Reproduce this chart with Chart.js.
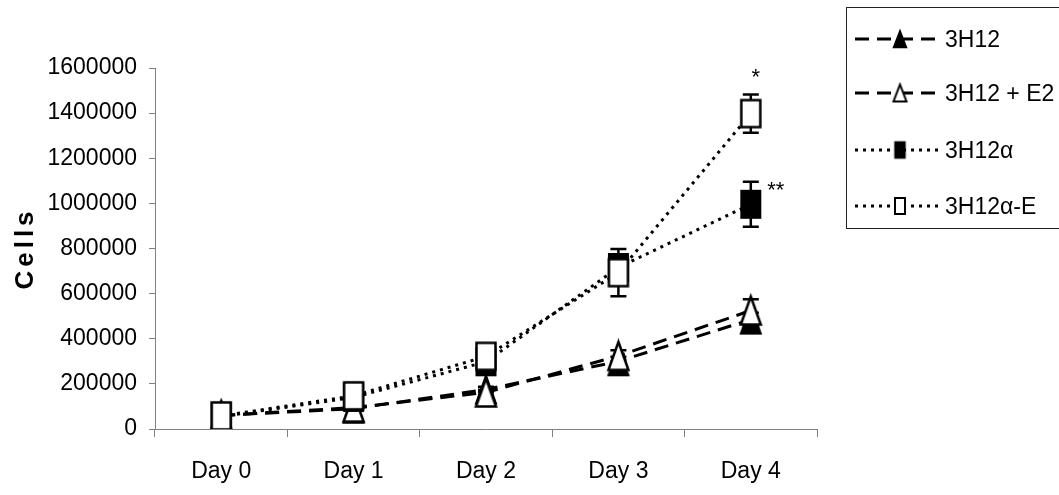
<!DOCTYPE html>
<html>
<head>
<meta charset="utf-8">
<script src="https://cdn.jsdelivr.net/npm/chart.js@4.4.0/dist/chart.umd.min.js"></script>
<style>
  html, body { margin: 0; padding: 0; background: #fff; overflow: hidden; }
  #wrap { position: relative; width: 1059px; height: 495px; }
  #chart { position: absolute; left: 0; top: 0; }
  #legend { position: absolute; left: 846px; top: 7px; width: 240px; height: 222px; border: 1px solid #222; box-sizing: border-box; background: #fff; }
  .row { position: absolute; left: 8px; height: 30px; display: flex; align-items: center; }
  .row canvas { display: block; }
  .row span { font-family: "Liberation Sans", Arial, sans-serif; font-size: 23px; color: #000; margin-left: 6px; white-space: nowrap; }
</style>
</head>
<body>
<div id="wrap">
  <canvas id="chart" width="1059" height="495"></canvas>
  <div id="legend"></div>
</div>
<script>
const days = ["Day 0", "Day 1", "Day 2", "Day 3", "Day 4"];
const seriesNames = ["3H12", "3H12 + E2", "3H12α", "3H12α-E"];

// cell counts
const cells3H12 = [60000, 90000, 175000, 300000, 485000];
const cells3H12E2 = [60000, 95000, 162000, 324000, 525000];
const cells3H12a = [55000, 140000, 298000, 716000, 996000];
const cells3H12aE = [58000, 147000, 322000, 693000, 1398000];

// error bars (+/-)
const err3H12 = [5000, 8000, 12000, 20000, 30000];
const err3H12E2 = [5000, 8000, 12000, 25000, 50000];
const err3H12a = [5000, 10000, 15000, 25000, 100000];
const err3H12aE = [5000, 12000, 20000, 105000, 85000];

const yTicks = [0, 200000, 400000, 600000, 800000, 1000000, 1200000, 1400000, 1600000];

Chart.defaults.font.family = '"Liberation Sans", Arial, sans-serif';

function makeMarker(shape, filled, w, h, lw) {
  const c = document.createElement("canvas");
  c.width = w + lw * 2 + 2;
  c.height = h + lw * 2 + 2;
  const g = c.getContext("2d");
  g.lineWidth = lw;
  g.lineJoin = "miter";
  g.strokeStyle = "#000";
  g.fillStyle = filled ? "#000" : "#fff";
  const x0 = lw + 1, y0 = lw + 1;
  g.beginPath();
  if (shape === "tri") {
    g.moveTo(x0 + w / 2, y0);
    g.lineTo(x0 + w, y0 + h);
    g.lineTo(x0, y0 + h);
    g.closePath();
  } else {
    g.rect(x0, y0, w, h);
  }
  g.fill();
  g.stroke();
  return c;
}

const markers = [
  makeMarker("tri", true, 20, 28, 2),
  makeMarker("tri", false, 20, 28, 2.5),
  makeMarker("rect", true, 19, 27, 2),
  makeMarker("rect", false, 19, 27, 2.5)
];
const dashes = [[14, 8], [14, 8], [3, 5], [3, 5]];
const allData = [cells3H12, cells3H12E2, cells3H12a, cells3H12aE];
const allErr = [err3H12, err3H12E2, err3H12a, err3H12aE];

const errorBars = {
  id: "errorBars",
  beforeDatasetsDraw(chart) {
    const { ctx, scales: { x, y } } = chart;
    ctx.save();
    ctx.strokeStyle = "#000";
    ctx.lineWidth = 2.5;
    allErr.forEach((errs, i) => {
      errs.forEach((e, j) => {
        const v = allData[i][j];
        const px = x.getPixelForValue(j);
        const top = y.getPixelForValue(v + e);
        const bot = y.getPixelForValue(v - e);
        ctx.beginPath();
        ctx.moveTo(px, top); ctx.lineTo(px, bot);
        ctx.moveTo(px - 8, top); ctx.lineTo(px + 8, top);
        ctx.moveTo(px - 8, bot); ctx.lineTo(px + 8, bot);
        ctx.stroke();
      });
    });
    ctx.restore();
  }
};

const stars = {
  id: "stars",
  afterDatasetsDraw(chart) {
    const { ctx, scales: { x, y } } = chart;
    const px = x.getPixelForValue(4);
    ctx.save();
    ctx.fillStyle = "#000";
    ctx.font = '22px "Liberation Sans", Arial, sans-serif';
    ctx.textAlign = "center";
    ctx.textBaseline = "alphabetic";
    ctx.fillText("*", px + 5, y.getPixelForValue(cells3H12aE[4]) - 30);
    ctx.fillText("**", px + 25, y.getPixelForValue(cells3H12a[4]) - 7);
    ctx.restore();
  }
};

const chart = new Chart(document.getElementById("chart"), {
  type: "line",
  data: {
    labels: days,
    datasets: seriesNames.map((name, i) => ({
      label: name,
      data: allData[i],
      borderColor: "#000",
      borderWidth: 3,
      borderDash: dashes[i],
      fill: false,
      tension: 0,
      pointStyle: markers[i],
      pointRadius: 8,
      order: 3 - i
    }))
  },
  options: {
    responsive: false,
    animation: false,
    layout: { padding: { left: 0, right: 242, top: 68, bottom: 0 } },
    plugins: {
      legend: { display: false },
      tooltip: { enabled: false }
    },
    scales: {
      x: {
        offset: true,
        grid: { offset: true, drawOnChartArea: false, tickLength: 8, color: "#808080" },
        border: { color: "#808080" },
        ticks: { color: "#000", font: { size: 23 }, padding: 21 },
        afterFit(s) { s.height = 66; }
      },
      y: {
        min: 0,
        max: 1600000,
        afterBuildTicks(s) { s.ticks = yTicks.map(v => ({ value: v })); },
        ticks: { color: "#000", font: { size: 23 }, padding: 12, callback: v => String(v) },
        grid: { drawOnChartArea: false, tickLength: 6, color: "#808080" },
        border: { color: "#808080" },
        title: { display: true, text: "Cells", color: "#000", font: { size: 26, weight: "bold" }, padding: { top: 10, bottom: 0 } },
        afterFit(s) { s.width = 155; }
      }
    }
  },
  plugins: [errorBars, stars]
});

// spaced-out axis title like the original
const yScale = chart.scales.y;
const origTitle = yScale.drawTitle;
yScale.drawTitle = function () {
  this.ctx.save();
  this.ctx.letterSpacing = "4px";
  origTitle.call(this);
  this.ctx.restore();
};
chart.draw();

// legend
const legend = document.getElementById("legend");
const rowTops = [16, 70, 127, 183];
const legendMarkers = [
  makeMarker("tri", true, 13, 17, 1.5),
  makeMarker("tri", false, 13, 17, 2),
  makeMarker("rect", true, 10, 16, 1.5),
  makeMarker("rect", false, 10, 16, 2)
];
seriesNames.forEach((name, i) => {
  const row = document.createElement("div");
  row.className = "row";
  row.style.top = rowTops[i] + "px";
  const c = document.createElement("canvas");
  c.width = 84; c.height = 30;
  const g = c.getContext("2d");
  g.strokeStyle = "#000";
  g.lineWidth = 3;
  g.setLineDash(dashes[i]);
  g.beginPath();
  g.moveTo(0, 15); g.lineTo(84, 15);
  g.stroke();
  const m = legendMarkers[i];
  g.drawImage(m, 45 - m.width / 2, 15 - m.height / 2);
  const span = document.createElement("span");
  span.textContent = name;
  row.appendChild(c);
  row.appendChild(span);
  legend.appendChild(row);
});
</script>
</body>
</html>
